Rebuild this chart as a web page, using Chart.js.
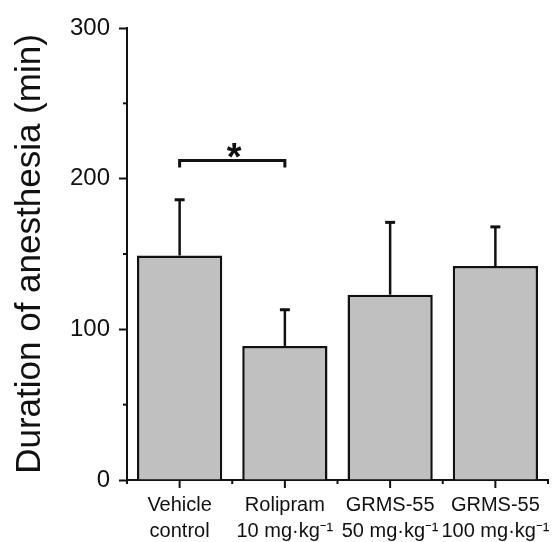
<!DOCTYPE html>
<html>
<head>
<meta charset="utf-8">
<script src="https://cdn.jsdelivr.net/npm/chart.js@4"></script>
<style>
  html, body { margin: 0; padding: 0; background: #ffffff; }
  #wrap { width: 552px; height: 542px; position: relative; }
</style>
</head>
<body>
<div id="wrap"><canvas id="c" width="552" height="542"></canvas></div>
<script>
// ---- data ----
const categories = [
  ['Vehicle', 'control'],
  ['Rolipram', '10 mg·kg⁻¹'],
  ['GRMS-55', '50 mg·kg⁻¹'],
  ['GRMS-55', '100 mg·kg⁻¹']
];
const means = [149, 89, 123, 142];
const errors = [37, 24, 48, 26];
const yMajorTicks = [0, 100, 200, 300];
const yMinorTicks = [50, 150, 250];
const sigFrom = 0;
const sigTo = 1;
const sigLevel = 212;
const sigLabel = '*';
const yTitle = 'Duration of anesthesia (min)';

const FONT = "'Liberation Sans', Arial, Helvetica, 'Noto Sans', sans-serif";
const INK = '#111111';

const overlay = {
  id: 'overlay',
  afterDatasetsDraw(chart) {
    const ctx = chart.ctx;
    const y = chart.scales.y;
    const meta = chart.getDatasetMeta(0);
    const area = chart.chartArea;
    ctx.save();
    ctx.strokeStyle = INK;
    ctx.lineCap = 'butt';
    // error bars (upper only)
    meta.data.forEach((bar, i) => {
      const top = y.getPixelForValue(means[i] + errors[i]);
      const base = y.getPixelForValue(means[i]);
      ctx.lineWidth = 2.5;
      ctx.beginPath();
      ctx.moveTo(bar.x, base);
      ctx.lineTo(bar.x, top);
      ctx.stroke();
      ctx.lineWidth = 3;
      ctx.beginPath();
      ctx.moveTo(bar.x - 5, top);
      ctx.lineTo(bar.x + 5, top);
      ctx.stroke();
    });
    // significance bracket
    const bx1 = meta.data[sigFrom].x, bx2 = meta.data[sigTo].x;
    const by = y.getPixelForValue(sigLevel);
    ctx.lineWidth = 3;
    ctx.beginPath();
    ctx.moveTo(bx1, by + 7);
    ctx.lineTo(bx1, by);
    ctx.lineTo(bx2, by);
    ctx.lineTo(bx2, by + 7);
    ctx.stroke();
    ctx.fillStyle = INK;
    ctx.font = 'bold 38px ' + FONT;
    ctx.textAlign = 'center';
    ctx.textBaseline = 'alphabetic';
    ctx.fillText(sigLabel, (bx1 + bx2) / 2 + 2, by + 9);
    // y minor ticks
    ctx.lineWidth = 2;
    yMinorTicks.forEach(v => {
      const py = y.getPixelForValue(v);
      ctx.beginPath();
      ctx.moveTo(area.left, py);
      ctx.lineTo(area.left - 4, py);
      ctx.stroke();
    });
    // x ticks: major at category centres, minor at boundaries
    meta.data.forEach(bar => {
      ctx.beginPath();
      ctx.moveTo(bar.x, area.bottom);
      ctx.lineTo(bar.x, area.bottom + 8);
      ctx.stroke();
    });
    const n = categories.length;
    const w = (area.right - area.left) / n;
    for (let k = 0; k <= n; k++) {
      const px = area.left + k * w;
      ctx.beginPath();
      ctx.moveTo(px, area.bottom);
      ctx.lineTo(px, area.bottom + 4);
      ctx.stroke();
    }
    ctx.restore();
  }
};

new Chart(document.getElementById('c'), {
  type: 'bar',
  data: {
    labels: categories,
    datasets: [{
      data: means,
      backgroundColor: '#c0c0c0',
      borderColor: INK,
      borderWidth: 2.5,
      borderSkipped: 'start',
      barPercentage: 0.81,
      categoryPercentage: 1.0
    }]
  },
  options: {
    responsive: false,
    animation: false,
    devicePixelRatio: 1,
    layout: { padding: { left: 0, right: 4, top: 28, bottom: 0 } },
    plugins: { legend: { display: false }, tooltip: { enabled: false } },
    scales: {
      x: {
        type: 'category',
        offset: true,
        grid: { display: true, drawOnChartArea: false, drawTicks: true, tickLength: 8, color: 'transparent', tickColor: 'transparent', offset: true },
        border: { display: true, color: INK, width: 2 },
        ticks: {
          color: INK,
          font: { family: FONT, size: 20, lineHeight: 1.3 },
          padding: 4,
          maxRotation: 0,
          autoSkip: false
        },
        afterFit(scale) {
          scale.height = 62;
          scale.paddingLeft = 0;
          scale.paddingRight = 0;
        }
      },
      y: {
        min: 0,
        max: 300,
        afterBuildTicks(scale) {
          scale.ticks = yMajorTicks.map(v => ({ value: v }));
        },
        grid: { display: true, drawOnChartArea: false, drawTicks: true, tickLength: 8, tickWidth: 2, tickColor: INK, color: 'transparent' },
        border: { display: true, color: INK, width: 2 },
        ticks: {
          color: INK,
          font: { family: FONT, size: 24 },
          padding: 9
        },
        title: {
          display: true,
          text: yTitle,
          color: INK,
          font: { family: FONT, size: 35 },
          padding: { top: 9, bottom: 0 }
        },
        afterFit(scale) {
          scale.width = 127;
        }
      }
    }
  },
  plugins: [overlay]
});
</script>
</body>
</html>
